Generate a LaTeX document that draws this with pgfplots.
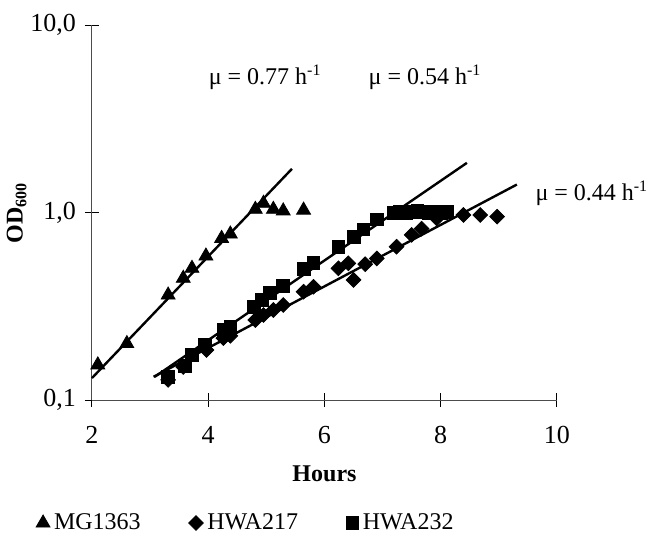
\documentclass[border=0pt]{standalone}
\usepackage{pgfplots}
\pgfplotsset{compat=1.18}
\usepackage{fontspec}
\setmainfont{Liberation Serif}

\pgfplotstableread{
x y
2.10 0.154
2.60 0.200
3.31 0.363
3.57 0.446
3.72 0.504
3.96 0.586
4.23 0.728
4.38 0.768
4.81 1.04
4.95 1.12
5.12 1.04
5.29 1.02
5.64 1.03
}\mgtab

\pgfplotstableread{
x y
3.31 0.128
3.57 0.150
3.97 0.185
4.26 0.214
4.38 0.220
4.81 0.267
4.95 0.284
5.12 0.302
5.29 0.321
5.64 0.378
5.81 0.402
6.24 0.504
6.41 0.536
6.50 0.437
6.70 0.530
6.90 0.569
7.24 0.657
7.50 0.760
7.67 0.820
7.93 0.930
8.39 0.970
8.68 0.970
8.97 0.950
}\hwaa

\pgfplotstableread{
x y
3.31 0.133
3.60 0.152
3.72 0.174
3.94 0.196
4.26 0.236
4.38 0.246
4.78 0.315
4.92 0.341
5.06 0.371
5.29 0.405
5.64 0.498
5.81 0.536
6.24 0.657
6.50 0.738
6.67 0.813
6.90 0.920
7.20 1.00
7.30 1.01
7.40 1.00
7.50 1.01
7.60 1.02
7.70 1.01
7.80 1.00
7.90 1.01
8.00 1.00
8.10 1.01
}\hwab

\begin{document}
\begin{tikzpicture}
\path[use as bounding box] (-46pt,-68.5pt) rectangle (280pt,200pt);
\begin{axis}[
  anchor=south west, at={(0pt,0pt)},
  scale only axis, width=232.5pt, height=187.5pt,
  xmin=2, xmax=10, ymode=log, ymin=0.1, ymax=10,
  axis lines=left, axis line style={-, black!70, line width=0.5pt},
  xtick={2,4,6,8,10}, xticklabels={2,4,6,8,10},
  ytick={0.1,1,10}, yticklabels={{0,1},{1,0},{10,0}},
  yminorticks=false, xminorticks=false,
  tick align=center, major tick length=7pt,
  tick style={black, line width=0.5pt},
  tick label style={font=\fontsize{13}{15}\selectfont},
  xticklabel style={yshift=-6pt},
  yticklabel style={xshift=-1pt},
  xlabel={\textbf{Hours}}, xlabel style={font=\fontsize{12}{14}\selectfont, yshift=-4pt},
  ylabel={\textbf{OD\textsubscript{600}}},
  ylabel style={font=\fontsize{12}{14}\selectfont, at={(axis description cs:-0.162,0.5)}, anchor=center},
  clip=false,
  legend columns=3,
  legend style={draw=none, fill=none, at={(0.333,-0.328)}, anchor=center,
    font=\fontsize{12}{14}\selectfont, /tikz/every even column/.append style={column sep=22pt}},
  legend cell align=left,
]
\addplot[black, line width=1.2pt, forget plot] coordinates {(2.0,0.131) (5.44,1.71)};
\addplot[black, line width=1.2pt, forget plot] coordinates {(3.08,0.133) (8.45,1.84)};
\addplot[black, line width=1.2pt, forget plot] coordinates {(3.06,0.133) (9.31,1.41)};
\addplot[only marks, mark=triangle*, mark size=4pt, black] table {\mgtab};
\addplot[only marks, mark=square*, mark size=2.6pt, mark options={rotate=45}, black] table {\hwaa};
\addplot[only marks, mark=square*, mark size=3.2pt, black] table {\hwab};
\legend{MG1363,HWA217,HWA232}
\node[font=\fontsize{12}{14}\selectfont] at (axis cs:4.98,5.28) {μ = 0.77 h\textsuperscript{-1}};
\node[font=\fontsize{12}{14}\selectfont] at (axis cs:7.73,5.28) {μ = 0.54 h\textsuperscript{-1}};
\node[font=\fontsize{12}{14}\selectfont] at (axis cs:10.6,1.27) {μ = 0.44 h\textsuperscript{-1}};
\end{axis}
\end{tikzpicture}
\end{document}
